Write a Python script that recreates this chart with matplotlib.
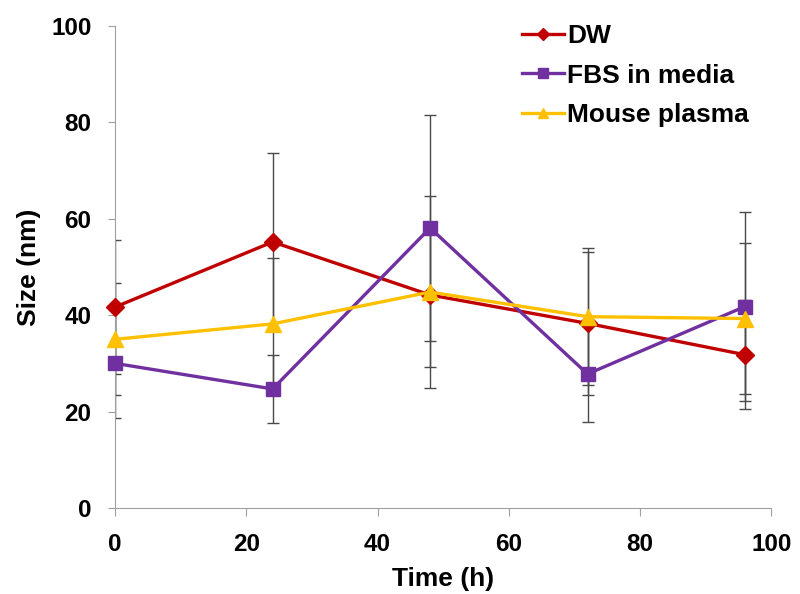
import matplotlib
matplotlib.use("Agg")
import matplotlib.pyplot as plt

plt.rcParams['font.family'] = ['Liberation Sans', 'DejaVu Sans']

time_h = [0, 24, 48, 72, 96]
dw = [41.7, 55.2, 44.2, 38.3, 31.8]
dw_err = [13.8, 18.5, 15.0, 14.8, 11.3]
fbs = [30.0, 24.7, 58.1, 27.8, 41.8]
fbs_err = [11.3, 7.0, 23.4, 9.9, 19.7]
plasma = [35.0, 38.2, 44.8, 39.7, 39.3]
plasma_err = [11.6, 13.6, 20.0, 14.2, 15.6]

series = [
    ("DW", dw, dw_err, "#C00000", "D", 9),
    ("FBS in media", fbs, fbs_err, "#7030A0", "s", 10),
    ("Mouse plasma", plasma, plasma_err, "#FFC000", "^", 11),
]

fig = plt.figure(figsize=(8, 5.94), dpi=100)
ax = fig.add_axes([0.144, 0.1448, 0.82, 0.8114])

for name, vals, errs, col, mk, ms in series:
    ax.errorbar(time_h, vals, yerr=errs, fmt='none', ecolor='#4a4a4a',
                elinewidth=1, capsize=4, capthick=1, zorder=1)
for name, vals, errs, col, mk, ms in series:
    ax.plot(time_h, vals, color=col, marker=mk, markersize=ms, lw=2.4,
            label=name, zorder=3, clip_on=False)

ax.set_xlim(0, 100)
ax.set_ylim(0, 100)
ax.set_xticks(range(0, 101, 20))
ax.set_yticks(range(0, 101, 20))
for s in ['top', 'right']:
    ax.spines[s].set_visible(False)
for s in ['left', 'bottom']:
    ax.spines[s].set_color('#A0A0A0')
ax.tick_params(axis='x', colors='#A0A0A0', length=6, labelcolor='black',
               labelsize=17.5, pad=12)
ax.tick_params(axis='y', colors='#A0A0A0', length=5, labelcolor='black',
               labelsize=17.5, pad=12)
for lab in ax.get_xticklabels() + ax.get_yticklabels():
    lab.set_fontweight('bold')
ax.set_xlabel("Time (h)", fontsize=19, fontweight='bold', labelpad=8)
ax.set_ylabel("Size (nm)", fontsize=19, fontweight='bold', labelpad=7)

leg = ax.legend(loc='upper left', bbox_to_anchor=(0.584, 1.054), frameon=False,
                prop={'weight': 'bold', 'size': 19}, handlelength=1.6,
                labelspacing=0.6, handletextpad=0.1, markerscale=0.7)

fig.savefig("out.png", dpi=100)
